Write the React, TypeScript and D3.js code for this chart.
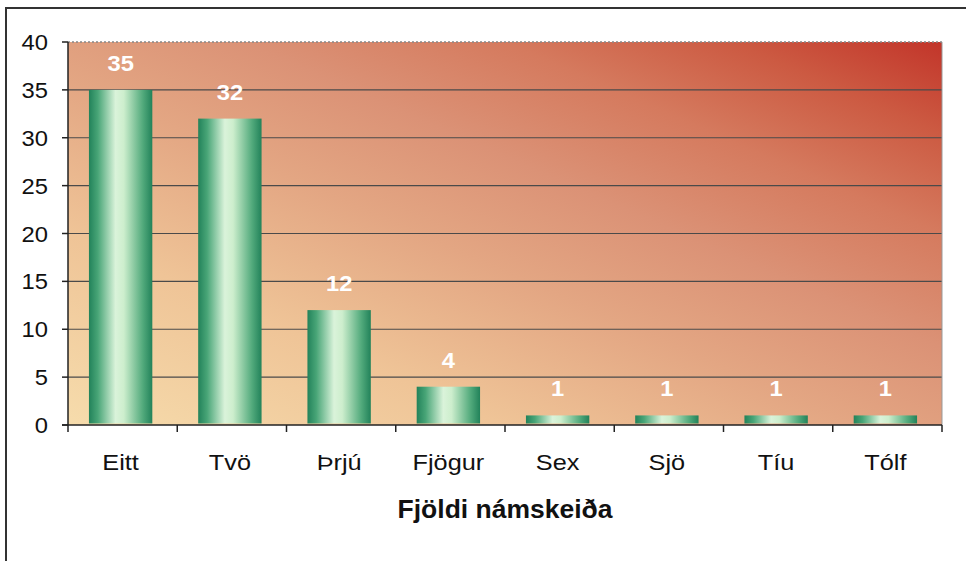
import React from "react";
import * as d3 from "d3";

const categories = ["Eitt", "Tvö", "Þrjú", "Fjögur", "Sex", "Sjö", "Tíu", "Tólf"];
const values = [35, 32, 12, 4, 1, 1, 1, 1];
const yTicks = [0, 5, 10, 15, 20, 25, 30, 35, 40];
const xTitle = "Fjöldi námskeiða";

const W = 966;
const H = 561;
const M = { left: 68, right: 24, top: 42, bottom: 136 };

export default function App() {
  const x = d3
    .scaleBand<string>()
    .domain(categories)
    .range([M.left, W - M.right])
    .paddingInner(0.42)
    .paddingOuter(0.21);
  const band = d3.scaleBand<string>().domain(categories).range([M.left, W - M.right]);
  const y = d3.scaleLinear().domain([0, 40]).range([H - M.bottom, M.top]);
  const font = "'Liberation Sans', Arial, sans-serif";
  const x0 = M.left;
  const x1 = W - M.right;
  const y0 = y(0);
  const yTop = y(40);
  const boundaries = categories.map((c) => band(c) as number).concat([x1]);

  return (
    <svg
      width={W}
      height={H}
      style={{ position: "absolute", left: 0, top: 0, background: "#fff" }}
      fontFamily={font}
    >
      <defs>
        <linearGradient id="bg" x1="0" y1="1" x2="1" y2="0">
          <stop offset="0%" stopColor="#f6dcac" />
          <stop offset="25%" stopColor="#efc497" />
          <stop offset="45%" stopColor="#e3a683" />
          <stop offset="60%" stopColor="#db9276" />
          <stop offset="75%" stopColor="#d57a5e" />
          <stop offset="88%" stopColor="#cc5a42" />
          <stop offset="100%" stopColor="#c2352a" />
        </linearGradient>
        <linearGradient id="bar" x1="0" y1="0" x2="1" y2="0">
          <stop offset="0%" stopColor="#22825a" />
          <stop offset="14%" stopColor="#48a577" />
          <stop offset="42%" stopColor="#daf3da" />
          <stop offset="55%" stopColor="#cdeecd" />
          <stop offset="85%" stopColor="#52aa7c" />
          <stop offset="100%" stopColor="#22825a" />
        </linearGradient>
      </defs>
      <rect x={6} y={8} width={980} height={580} fill="none" stroke="#333" strokeWidth={2} />
      <rect x={x0} y={yTop} width={x1 - x0} height={y0 - yTop} fill="url(#bg)" />
      {yTicks.slice(1, -1).map((t) => (
        <line key={t} x1={x0} x2={x1} y1={y(t)} y2={y(t)} stroke="#4a4a4a" strokeWidth={1.2} />
      ))}
      <line x1={x0} x2={x1} y1={yTop} y2={yTop} stroke="#888" strokeWidth={1.5} strokeDasharray="2,2" />
      <line x1={x1} x2={x1} y1={yTop} y2={y0} stroke="#999" strokeWidth={1} />
      {categories.map((c, i) => (
        <rect
          key={c}
          x={(x(c) as number) - 2}
          y={y(values[i])}
          width={x.bandwidth()}
          height={y0 - 1.5 - y(values[i])}
          fill="url(#bar)"
        />
      ))}
      {categories.map((c, i) => (
        <text
          key={c}
          transform={`translate(${(x(c) as number) - 2 + x.bandwidth() / 2},${y(values[i]) - 19}) scale(1.08,1)`}
          textAnchor="middle"
          fill="#fff"
          fontWeight="bold"
          fontSize={22}
        >
          {values[i]}
        </text>
      ))}
      <line x1={x0} x2={x0} y1={yTop} y2={y0} stroke="#222" strokeWidth={1.5} />
      {yTicks.map((t) => (
        <g key={t}>
          <line x1={x0 - 6} x2={x0} y1={y(t)} y2={y(t)} stroke="#222" strokeWidth={1.5} />
          <text
            transform={`translate(48,${y(t) + 8}) scale(1.08,1)`}
            textAnchor="end"
            fontSize={22}
            fill="#111"
          >
            {t}
          </text>
        </g>
      ))}
      <line x1={x0 - 6} x2={x1} y1={y0} y2={y0} stroke="#222" strokeWidth={1.5} />
      {boundaries.map((b, i) => (
        <line key={i} x1={b} x2={b} y1={y0} y2={y0 + 7} stroke="#222" strokeWidth={1.5} />
      ))}
      {categories.map((c) => (
        <text
          key={c}
          transform={`translate(${(band(c) as number) + band.bandwidth() / 2 - 2},470) scale(1.15,1)`}
          textAnchor="middle"
          fontSize={22}
          fill="#111"
        >
          {c}
        </text>
      ))}
      <text
        transform="translate(505,518) scale(1.06,1)"
        textAnchor="middle"
        fontSize={25}
        fontWeight="bold"
        fill="#111"
      >
        {xTitle}
      </text>
    </svg>
  );
}
